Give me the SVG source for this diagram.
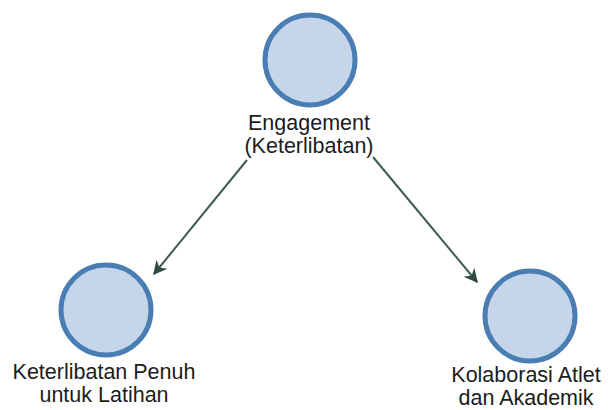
<svg xmlns="http://www.w3.org/2000/svg" width="608" height="410" viewBox="0 0 608 410">
<style>
.node circle{fill:#c6d6ea;stroke:#4a7db3;stroke-width:5}
text{font-family:"Liberation Sans",Arial,sans-serif;font-size:21.5px;fill:#1c1c1c;text-anchor:middle}
.edge{stroke:#3f5a52;stroke-width:2;fill:none;marker-end:url(#arr)}
</style>
<defs>
<marker id="arr" viewBox="0 0 10 10" refX="9" refY="5" markerWidth="18" markerHeight="14" markerUnits="userSpaceOnUse" orient="auto">
<path d="M0,0 L10,5 L0,10 L3,5 Z" fill="#2e4a42"/>
</marker>
</defs>
<rect width="608" height="410" fill="#fff"/>
<g id="connectors">
<path class="edge" d="M247,160 L154,274"/>
<path class="edge" d="M373,157 L477,282"/>
</g>
<g id="node-engagement" class="node">
<circle cx="310" cy="60" r="45"/>
<text x="309" y="130">Engagement</text>
<text x="309" y="153">(Keterlibatan)</text>
</g>
<g id="node-keterlibatan" class="node">
<circle cx="106" cy="310" r="45"/>
<text x="104" y="379">Keterlibatan Penuh</text>
<text x="104" y="402">untuk Latihan</text>
</g>
<g id="node-kolaborasi" class="node">
<circle cx="530" cy="316" r="45"/>
<text x="526" y="382">Kolaborasi Atlet</text>
<text x="526" y="405">dan Akademik</text>
</g>
</svg>
